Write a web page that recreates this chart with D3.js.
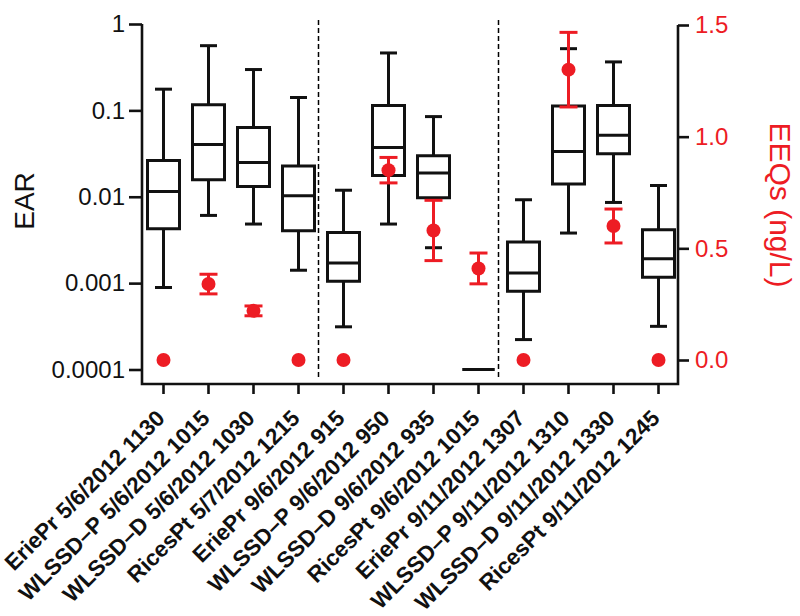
<!DOCTYPE html>
<html><head><meta charset="utf-8">
<script src="https://cdn.jsdelivr.net/npm/d3@7"></script>
<style>body{margin:0;background:#fff}svg{display:block}</style>
</head><body>
<svg id="chart" width="800" height="616"></svg>
<script>
const categories = ["EriePr 5/6/2012 1130","WLSSD\u2013P 5/6/2012 1015","WLSSD\u2013D 5/6/2012 1030","RicesPt 5/7/2012 1215",
  "EriePr 9/6/2012 915","WLSSD\u2013P 9/6/2012 950","WLSSD\u2013D 9/6/2012 935","RicesPt 9/6/2012 1015",
  "EriePr 9/11/2012 1307","WLSSD\u2013P 9/11/2012 1310","WLSSD\u2013D 9/11/2012 1330","RicesPt 9/11/2012 1245"];
const earWhiskerHigh = [0.176, 0.561, 0.297, 0.141, 0.0119, 0.462, 0.0847, 0.0001, 0.00923, 0.518, 0.364, 0.0135];
const earQ3 = [0.0263, 0.116, 0.0632, 0.0227, 0.00386, 0.1136, 0.0298, 0.0001, 0.00299, 0.1127, 0.1136, 0.00415];
const earMedian = [0.0115, 0.0403, 0.0249, 0.0103, 0.00171, 0.0372, 0.0188, 0.0001, 0.00131, 0.0334, 0.0516, 0.00191];
const earQ1 = [0.00427, 0.0157, 0.01315, 0.00405, 0.00105, 0.0176, 0.00973, 0.0001, 0.000803, 0.01403, 0.0314, 0.00117];
const earWhiskerLow = [0.00089, 0.00608, 0.00483, 0.00141, 0.000312, 0.00483, 0.00257, 0.0001, 0.000222, 0.0038, 0.00859, 0.000316];
const eeqMean = [0, 0.34, 0.22, 0, 0, 0.85, 0.58, 0.41, 0, 1.30, 0.60, 0];
const eeqErr = [0, 0.044, 0.022, 0, 0, 0.057, 0.135, 0.069, 0, 0.167, 0.076, 0];
const earTicks = [0.0001, 0.001, 0.01, 0.1, 1];
const earTickLabels = ["0.0001", "0.001", "0.01", "0.1", "1"];
const eeqTicks = [0, 0.5, 1.0, 1.5];
const groupStarts = [4, 8];

const RED = "#ed1c24";
const svg = d3.select("#chart");
const font = "'Liberation Sans', Arial, Helvetica, sans-serif";
const left = 142, right = 678, bottom = 384;

const x = d3.scaleBand().domain(categories).range([141, 681]).padding(0);
const yL = d3.scaleLog().domain([0.0001, 1]).range([369.5, 24]);
const yR = d3.scaleLinear().domain([0, 1.5]).range([360, 25]);

// dashed separators
groupStarts.forEach(i => {
  const xs = (x(categories[i - 1]) + x.bandwidth() / 2 + x(categories[i]) + x.bandwidth() / 2) / 2 - 2.5;
  svg.append("line").attr("x1", xs).attr("x2", xs).attr("y1", 20).attr("y2", 378)
    .attr("stroke", "#000").attr("stroke-width", 1.5).attr("stroke-dasharray", "5,3");
});

// frame lines
svg.append("path").attr("d", `M${left},${yL(1)} V${bottom} H${right} V${yR(1.5)}`)
  .attr("fill", "none").attr("stroke", "#111").attr("stroke-width", 2.6);

// left axis
const gL = svg.append("g").attr("transform", `translate(${left},0)`)
  .call(d3.axisLeft(yL).tickValues(earTicks).tickFormat((d, i) => earTickLabels[i]).tickSize(13).tickPadding(4));
gL.select(".domain").remove();
gL.selectAll("line").attr("stroke", "#111").attr("stroke-width", 2.6);
gL.selectAll("text").attr("font-family", font).attr("font-size", 24).attr("fill", "#111");

// right axis
const gR = svg.append("g").attr("transform", `translate(${right},0)`)
  .call(d3.axisRight(yR).tickValues(eeqTicks).tickFormat(d3.format(".1f")).tickSize(11).tickPadding(6));
gR.select(".domain").remove();
gR.selectAll("line").attr("stroke", "#111").attr("stroke-width", 2.6);
gR.selectAll("text").attr("font-family", font).attr("font-size", 24).attr("fill", RED);

// bottom axis
const gB = svg.append("g").attr("transform", `translate(0,${bottom})`)
  .call(d3.axisBottom(x).tickSize(10).tickPadding(0));
gB.select(".domain").remove();
gB.selectAll("line").attr("stroke", "#111").attr("stroke-width", 2.6);
gB.selectAll("text").attr("font-family", font).attr("font-size", 22.5).attr("font-weight", "bold")
  .attr("fill", "#111").attr("text-anchor", "end").attr("y", 0).attr("dy", "0.35em")
  .attr("transform", "translate(-3,30) rotate(-45)");

// axis titles
svg.append("text").attr("transform", "translate(34,201) rotate(-90)").attr("text-anchor", "middle")
  .attr("font-family", font).attr("font-size", 28).attr("fill", "#111").text("EAR");
svg.append("text").attr("transform", "translate(770,205) rotate(90)").attr("text-anchor", "middle")
  .attr("font-family", font).attr("font-size", 30).attr("fill", RED).text("EEQs (ng/L)");

// boxplots
const bw = 32, cw = 17;
categories.forEach((c, i) => {
  const cx = x(c) + x.bandwidth() / 2;
  const g = svg.append("g").attr("stroke", "#111").attr("stroke-width", 3).attr("fill", "none");
  if (earWhiskerHigh[i] > earQ3[i]) {
    g.append("line").attr("x1", cx).attr("x2", cx).attr("y1", yL(earWhiskerHigh[i])).attr("y2", yL(earQ3[i]));
    g.append("line").attr("x1", cx - cw / 2).attr("x2", cx + cw / 2).attr("y1", yL(earWhiskerHigh[i])).attr("y2", yL(earWhiskerHigh[i]));
  }
  if (earWhiskerLow[i] < earQ1[i]) {
    g.append("line").attr("x1", cx).attr("x2", cx).attr("y1", yL(earQ1[i])).attr("y2", yL(earWhiskerLow[i]));
    g.append("line").attr("x1", cx - cw / 2).attr("x2", cx + cw / 2).attr("y1", yL(earWhiskerLow[i])).attr("y2", yL(earWhiskerLow[i]));
  }
  g.append("path").attr("d", `M${cx - bw / 2},${yL(earQ3[i])} H${cx + bw / 2} V${yL(earQ1[i])} H${cx - bw / 2} Z`)
    .attr("stroke-linejoin", "miter");
  g.append("line").attr("x1", cx - bw / 2).attr("x2", cx + bw / 2).attr("y1", yL(earMedian[i])).attr("y2", yL(earMedian[i]));
});

// EEQ points with error bars
categories.forEach((c, i) => {
  const cx = x(c) + x.bandwidth() / 2;
  const g = svg.append("g").attr("stroke", RED).attr("stroke-width", 3);
  if (eeqErr[i] > 0) {
    const hi = yR(eeqMean[i] + eeqErr[i]), lo = yR(eeqMean[i] - eeqErr[i]);
    g.append("line").attr("x1", cx).attr("x2", cx).attr("y1", hi).attr("y2", lo);
    g.append("line").attr("x1", cx - 9).attr("x2", cx + 9).attr("y1", hi).attr("y2", hi);
    g.append("line").attr("x1", cx - 9).attr("x2", cx + 9).attr("y1", lo).attr("y2", lo);
  }
  svg.append("circle").attr("cx", cx).attr("cy", yR(eeqMean[i])).attr("r", 7).attr("fill", RED);
});
</script>
</body></html>
